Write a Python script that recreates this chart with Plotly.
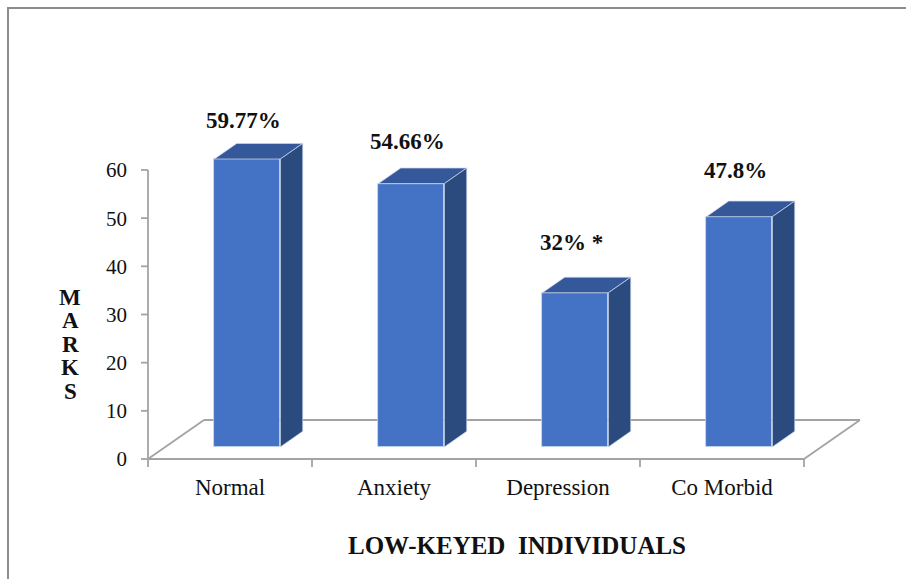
import plotly.graph_objects as go

# ---- data -------------------------------------------------------------
categories = ["Normal", "Anxiety", "Depression", "Co Morbid"]
marks = [59.77, 54.66, 32, 47.8]
label_notes = ["", "", " *", ""]
y_ticks = [0, 10, 20, 30, 40, 50, 60]
y_title = "MARKS"
x_title = "LOW-KEYED  INDIVIDUALS"

# ---- page / plot-box geometry (pixels) --------------------------------
W, H = 906, 579
PLOT_L, PLOT_R, PLOT_T, PLOT_B = 138, 870, 100, 471
X0_PX, Y0_PX = 148, 459          # where the category axis / zero line sits
PX_CAT, PX_UNIT = 164.0, 4.817   # pixels per category, pixels per mark

x_range = [-0.5 - (X0_PX - PLOT_L) / PX_CAT, -0.5 + (PLOT_R - X0_PX) / PX_CAT]
y_range = [-(PLOT_B - Y0_PX) / PX_UNIT, (Y0_PX - PLOT_T) / PX_UNIT]


def paper_x(px):
    return (px - PLOT_L) / (PLOT_R - PLOT_L)


def paper_y(py):
    return (PLOT_B - py) / (PLOT_B - PLOT_T)


# ---- pseudo-3D depth --------------------------------------------------
DX = 56 / PX_CAT      # floor depth, category units
DY = 39 / PX_UNIT     # floor depth, value units
F0 = 0.31             # depth at which the bar front faces stand
FD = 0.40             # bar depth (fraction of floor depth)
BAR_W = 66 / PX_CAT

FRONT = "#4472C4"
TOP = "#34589A"
SIDE = "#2B4A7E"
EDGE = "rgba(205,218,240,0.9)"
AXIS = "#A3A3A3"
FONT = "Liberation Serif, Times New Roman, serif"

n = len(categories)
xs = [i + F0 * DX for i in range(n)]
base = F0 * DY
sdx, sdy = FD * DX, FD * DY

fig = go.Figure()

# front faces
fig.add_trace(go.Bar(
    x=xs, y=marks, base=[base] * n, width=BAR_W,
    marker=dict(color=FRONT, line=dict(color=EDGE, width=0.8)),
    hoverinfo="skip", showlegend=False,
))

# top and side faces
for x, v in zip(xs, marks):
    x0, x1 = x - BAR_W / 2, x + BAR_W / 2
    top = base + v
    fig.add_trace(go.Scatter(
        x=[x0, x1, x1 + sdx, x0 + sdx, x0],
        y=[top, top, top + sdy, top + sdy, top],
        fill="toself", fillcolor=TOP, mode="lines",
        line=dict(color=EDGE, width=0.8),
        hoverinfo="skip", showlegend=False,
    ))
    fig.add_trace(go.Scatter(
        x=[x1, x1, x1 + sdx, x1 + sdx, x1],
        y=[base, top, top + sdy, base + sdy, base],
        fill="toself", fillcolor=SIDE, mode="lines",
        line=dict(color=EDGE, width=0.8),
        hoverinfo="skip", showlegend=False,
    ))

# floor, value axis line and tick marks
shapes = []
left, right = -0.5, n - 0.5
line = dict(color=AXIS, width=1.8)
for (xa, ya, xb, yb) in [
    (left, 0, right, 0),
    (left + DX, DY, right + DX, DY),
    (left, 0, left + DX, DY),
    (right, 0, right + DX, DY),
    (left, 0, left, y_ticks[-1]),
]:
    shapes.append(dict(type="line", xref="x", yref="y", x0=xa, y0=ya,
                       x1=xb, y1=yb, line=line, layer="below"))
for t in y_ticks:
    shapes.append(dict(type="line", xref="x", yref="y", x0=left - 7 / PX_CAT,
                       y0=t, x1=left, y1=t, line=line, layer="below"))
for k in range(n + 1):
    shapes.append(dict(type="line", xref="x", yref="y", x0=left + k, y0=0,
                       x1=left + k, y1=-8 / PX_UNIT, line=line, layer="below"))
# chart frame
shapes.append(dict(type="rect", xref="paper", yref="paper",
                   x0=paper_x(8), y0=paper_y(600), x1=paper_x(930), y1=paper_y(8),
                   line=dict(color="#8C8C8C", width=2), fillcolor="rgba(0,0,0,0)"))

annotations = []
label_gap_px = [23, 27, 35, 31]
for x, v, note, gap in zip(xs, marks, label_notes, label_gap_px):
    annotations.append(dict(
        x=x, y=base + v + sdy, xref="x", yref="y", yshift=gap, xshift=-4,
        text=f"{v:g}%{note}", showarrow=False, yanchor="middle",
        font=dict(family=FONT, size=23, color="#111", weight="bold"),
    ))

for k, ch in enumerate(y_title):
    annotations.append(dict(
        x=paper_x(70), y=paper_y(297 + 23.5 * k), xref="paper", yref="paper",
        text=ch, showarrow=False, xanchor="center", yanchor="middle",
        font=dict(family=FONT, size=23, color="#111", weight="bold"),
    ))

annotations.append(dict(
    x=paper_x(517), y=paper_y(545), xref="paper", yref="paper",
    text=x_title, showarrow=False, xanchor="center", yanchor="middle",
    font=dict(family=FONT, size=25, color="#111", weight="bold"),
))

fig.update_layout(
    width=W, height=H, autosize=False,
    margin=dict(l=PLOT_L, r=W - PLOT_R, t=PLOT_T, b=H - PLOT_B, pad=0),
    paper_bgcolor="white", plot_bgcolor="white",
    shapes=shapes, annotations=annotations, bargap=0,
    xaxis=dict(range=x_range, tickvals=list(range(n)), ticktext=categories,
               ticks="", showgrid=False, zeroline=False, showline=False,
               automargin=False, ticklabelstandoff=0,
               tickfont=dict(family=FONT, size=23, color="#111")),
    yaxis=dict(range=y_range, tickvals=y_ticks, ticks="", showgrid=False,
               zeroline=False, showline=False, automargin=False,
               ticklabelstandoff=10,
               tickfont=dict(family=FONT, size=21, color="#111")),
)

fig.write_html("out.html")
